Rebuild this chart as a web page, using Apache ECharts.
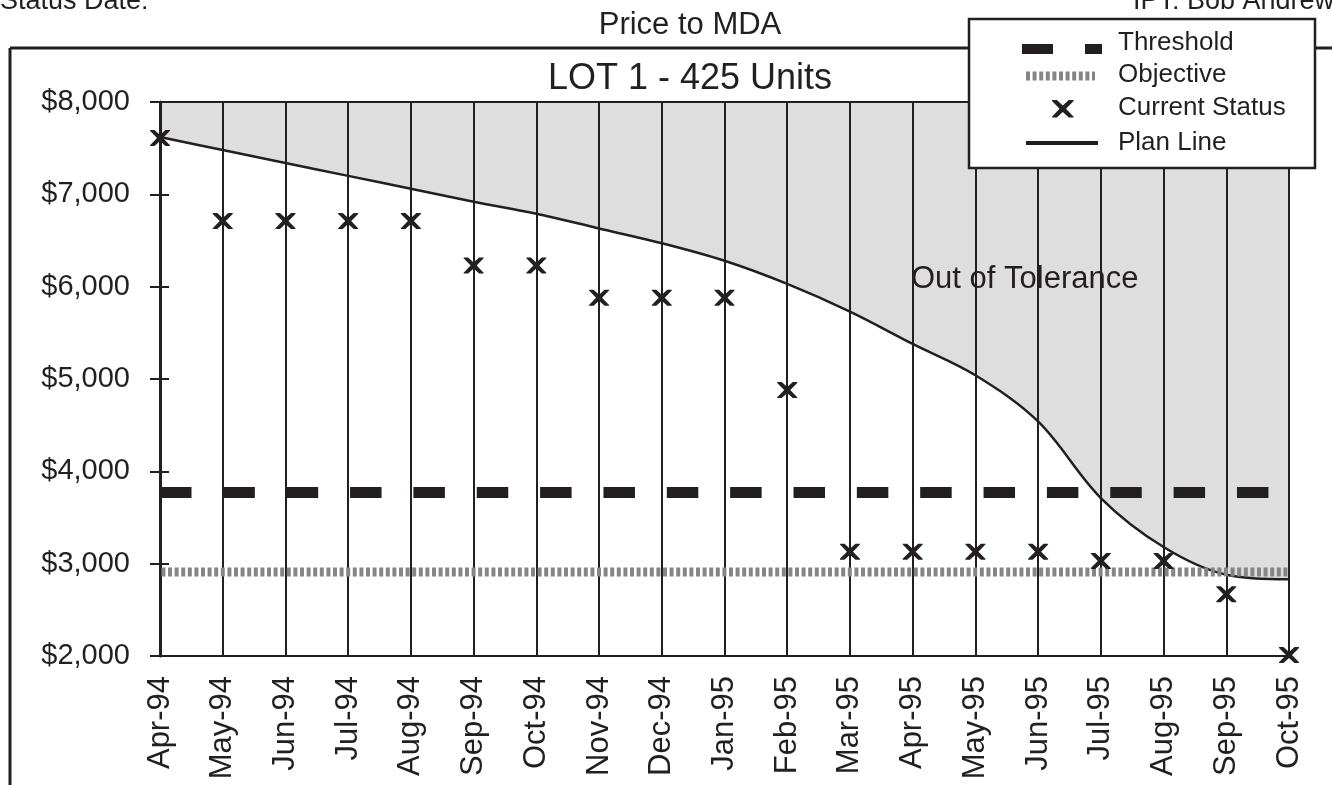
<!DOCTYPE html>
<html>
<head>
<meta charset="utf-8">
<script src="https://cdn.jsdelivr.net/npm/echarts@6/dist/echarts.min.js"></script>
<style>
    html, body { margin: 0; padding: 0; background: #fff; }
    #chart { width: 1332px; height: 785px; }
</style>
</head>
<body>
<div id="chart"></div>
<script>
const months = ['Apr-94', 'May-94', 'Jun-94', 'Jul-94', 'Aug-94', 'Sep-94', 'Oct-94', 'Nov-94', 'Dec-94', 'Jan-95',
    'Feb-95', 'Mar-95', 'Apr-95', 'May-95', 'Jun-95', 'Jul-95', 'Aug-95', 'Sep-95', 'Oct-95']
const planLine = [7620, 7480, 7340, 7200, 7060, 6920, 6790, 6630, 6470, 6280,
    6030, 5730, 5380, 5040, 4540, 3710, 3180, 2880, 2830]
const currentStatus = [7610, 6710, 6710, 6710, 6710, 6230, 6230, 5880, 5880, 5880,
    4880, 3130, 3130, 3130, 3130, 3030, 3030, 2670, 2010]
const thresholdValue = 3770
const objectiveValue = 2910
const yTicks = [2000, 3000, 4000, 5000, 6000, 7000, 8000]

const ink = '#231f20'
const font = '"Liberation Sans", Arial, sans-serif'
// bold X marker, 20 x 16
const xPoints = [[0, 0], [4.5, 0], [10, 5], [15.5, 0], [20, 0], [20, 0.8], [13, 8], [20, 15.2], [20, 16], [15.5, 16],
    [10, 11], [4.5, 16], [0, 16], [0, 15.2], [7, 8], [0, 0.8]]
const xPath = 'path://M' + xPoints.map((p) => p.join(',')).join(' L') + ' Z'

const chart = echarts.init(document.getElementById('chart'))

const legendZ = 100
const legendText = (label, y) => ({
    type: 'text', x: 1118, y: y, z: legendZ,
    style: { text: label, font: '26px ' + font, fill: ink, verticalAlign: 'middle' },
})

const option = {
    animation: false,
    textStyle: { fontFamily: font, color: ink },
    grid: {
        left: 160, right: 43, top: 102, bottom: 129,
        show: true, borderColor: ink, borderWidth: 2, backgroundColor: 'transparent', z: 5,
    },
    xAxis: {
        type: 'category',
        data: months,
        boundaryGap: false,
        z: 5,
        axisLine: { show: true, lineStyle: { color: ink, width: 2 } },
        axisTick: { show: false },
        axisLabel: { rotate: 90, fontSize: 31, color: ink, margin: 20, fontFamily: font },
        splitLine: { show: true, lineStyle: { color: ink, width: 2 } },
    },
    yAxis: [
        {
            type: 'value', min: yTicks[0], max: yTicks[yTicks.length - 1], interval: 1000, z: 5,
            axisLine: { show: true, lineStyle: { color: ink, width: 3 } },
            axisTick: { show: true, length: 10, lineStyle: { color: ink, width: 2 } },
            axisLabel: {
                fontSize: 29, color: ink, margin: 30, fontFamily: font,
                formatter: (v) => '$' + v.toLocaleString('en-US'),
            },
            splitLine: { show: false },
        },
        {
            type: 'value', min: yTicks[0], max: yTicks[yTicks.length - 1], interval: 1000, position: 'left', z: 5,
            axisLine: { show: false },
            axisTick: { show: true, inside: true, length: 9, lineStyle: { color: ink, width: 2 } },
            axisLabel: { show: false },
            splitLine: { show: false },
        },
    ],
    series: [
        {
            name: 'Plan Line',
            type: 'line',
            data: planLine,
            smooth: 0.35,
            showSymbol: false,
            z: 2,
            lineStyle: { color: ink, width: 2.5 },
            areaStyle: { origin: 'end', color: '#dedede', opacity: 1 },
        },
        {
            name: 'Threshold',
            type: 'line',
            data: months.map(() => thresholdValue),
            showSymbol: false,
            z: 6,
            lineStyle: { color: ink, width: 11, type: [31.5, 31.85], cap: 'butt' },
        },
        {
            name: 'Objective',
            type: 'line',
            data: months.map(() => objectiveValue),
            showSymbol: false,
            z: 6,
            lineStyle: { color: '#858585', width: 9, type: [4, 2.6], dashOffset: -8, cap: 'butt' },
        },
        {
            name: 'Current Status',
            type: 'scatter',
            data: currentStatus,
            symbol: xPath,
            symbolSize: [20, 16],
            z: 10,
            itemStyle: { color: ink, opacity: 1 },
        },
    ],
    graphic: [
        { type: 'text', x: 0, y: 2, style: { text: 'Status Date:', font: '27px ' + font, fill: ink, verticalAlign: 'middle' } },
        { type: 'text', x: 1133, y: 2, style: { text: 'IPT: Bob Andrews', font: '27px ' + font, fill: ink, verticalAlign: 'middle' } },
        { type: 'text', x: 690, y: 25, style: { text: 'Price to MDA', font: '31px ' + font, fill: ink, align: 'center', verticalAlign: 'middle' } },
        { type: 'line', shape: { x1: 10, y1: 48, x2: 1340, y2: 48 }, style: { stroke: ink, lineWidth: 3 }, z: 1 },
        { type: 'line', shape: { x1: 10, y1: 48, x2: 10, y2: 790 }, style: { stroke: ink, lineWidth: 3 }, z: 1 },
        { type: 'text', x: 690, y: 79, style: { text: 'LOT 1 - 425 Units', font: '36px ' + font, fill: ink, align: 'center', verticalAlign: 'middle' } },
        { type: 'text', x: 911, y: 279, z: 3, style: { text: 'Out of Tolerance', font: '31px ' + font, fill: ink, verticalAlign: 'middle' } },
        { type: 'rect', z: legendZ, shape: { x: 969, y: 19, width: 346, height: 149 }, style: { fill: '#fff', stroke: ink, lineWidth: 2.5 } },
        { type: 'rect', z: legendZ, shape: { x: 1022, y: 44, width: 31, height: 10 }, style: { fill: ink } },
        { type: 'rect', z: legendZ, shape: { x: 1085, y: 44, width: 17, height: 10 }, style: { fill: ink } },
        { type: 'line', z: legendZ, shape: { x1: 1026, y1: 76, x2: 1095, y2: 76 }, style: { stroke: '#858585', lineWidth: 9, lineDash: [4, 2.6] } },
        { type: 'polygon', z: legendZ, shape: { points: xPoints }, x: 1052, y: 100, scaleX: 1.08, scaleY: 1.1, style: { fill: ink } },
        { type: 'line', z: legendZ, shape: { x1: 1026, y1: 143, x2: 1098, y2: 143 }, style: { stroke: ink, lineWidth: 4 } },
        legendText('Threshold', 43),
        legendText('Objective', 75),
        legendText('Current Status', 108),
        legendText('Plan Line', 143),
    ],
}

chart.setOption(option)
</script>
</body>
</html>
